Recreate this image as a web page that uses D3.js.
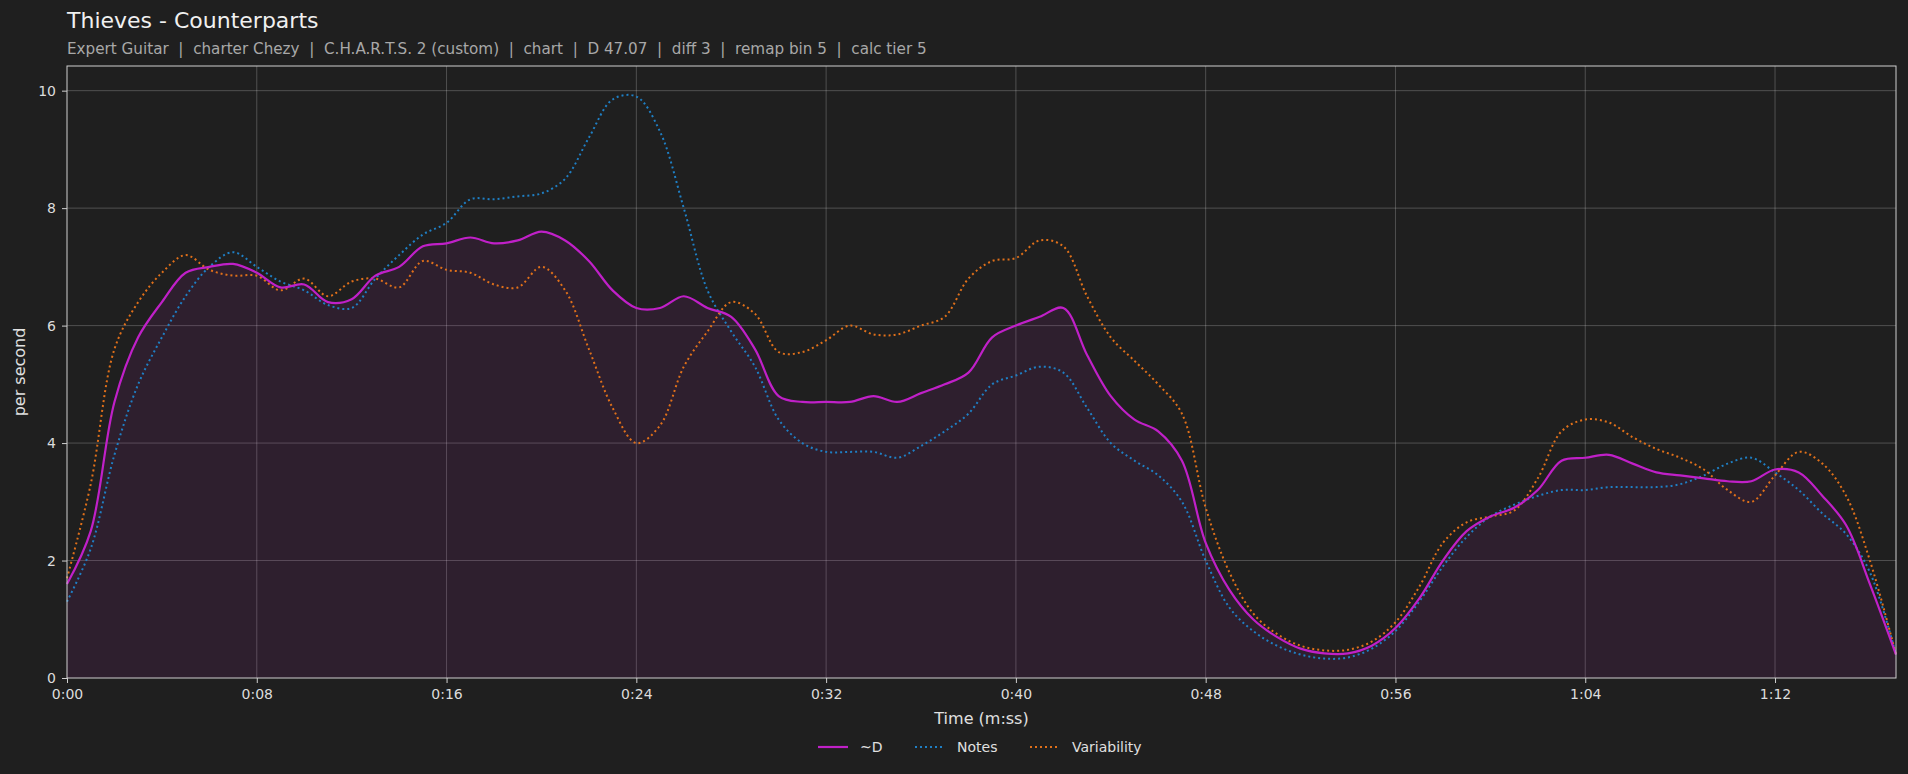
<!DOCTYPE html>
<html><head><meta charset="utf-8">
<script src="https://cdn.jsdelivr.net/npm/d3@7"></script>
<style>
body{margin:0;background:#1f1f1f;font-family:"DejaVu Sans",sans-serif;}
.axis text{fill:#dcdcdc;font-size:14px;font-family:"DejaVu Sans",sans-serif;}
.axis path,.axis line{stroke:#cfcfcf;}
.grid line{stroke:#ffffff;stroke-opacity:0.28;stroke-width:0.8;}
</style></head>
<body><svg id="chart"></svg>
<script>
const W = 1908, H = 774;
const margin = {top: 66, right: 12, bottom: 96, left: 67};
const innerW = W - margin.left - margin.right;
const innerH = H - margin.top - margin.bottom;

const TITLE = "Thieves - Counterparts";
const SUBTITLE = "Expert Guitar  |  charter Chezy  |  C.H.A.R.T.S. 2 (custom)  |  chart  |  D 47.07  |  diff 3  |  remap bin 5  |  calc tier 5";

const times = d3.range(0, 77).concat([77.1]);
const dValues = [1.6,2.5,4.7,5.8,6.4,6.9,7.0,7.05,6.9,6.65,6.7,6.4,6.45,6.85,7.0,7.35,7.4,7.5,7.4,7.45,7.6,7.45,7.1,6.6,6.3,6.3,6.5,6.3,6.15,5.6,4.8,4.7,4.7,4.7,4.8,4.7,4.85,5.0,5.2,5.8,6.0,6.15,6.3,5.5,4.8,4.4,4.2,3.7,2.3,1.5,1.0,0.7,0.5,0.42,0.42,0.55,0.85,1.35,2.0,2.5,2.75,2.9,3.2,3.7,3.75,3.8,3.65,3.5,3.45,3.4,3.35,3.35,3.55,3.5,3.1,2.6,1.6,0.4];
const notesValues = [1.3,2.2,3.8,5.0,5.8,6.5,7.0,7.25,7.0,6.75,6.6,6.35,6.3,6.8,7.2,7.55,7.75,8.15,8.15,8.2,8.25,8.5,9.2,9.85,9.9,9.3,8.0,6.6,5.9,5.3,4.4,4.0,3.85,3.85,3.85,3.75,3.95,4.2,4.5,5.0,5.15,5.3,5.2,4.6,4.0,3.7,3.45,3.0,2.0,1.2,0.8,0.55,0.4,0.33,0.35,0.5,0.8,1.3,1.9,2.4,2.75,2.95,3.1,3.2,3.2,3.25,3.25,3.25,3.3,3.45,3.65,3.75,3.5,3.2,2.8,2.45,1.8,0.4];
const varValues = [1.7,3.3,5.6,6.4,6.9,7.2,6.95,6.85,6.85,6.6,6.8,6.5,6.75,6.8,6.65,7.1,6.95,6.9,6.7,6.65,7.0,6.6,5.6,4.6,4.0,4.3,5.3,5.9,6.4,6.2,5.55,5.55,5.75,6.0,5.85,5.85,6.0,6.15,6.8,7.1,7.15,7.45,7.35,6.5,5.8,5.4,5.0,4.5,2.9,1.8,1.1,0.75,0.55,0.47,0.48,0.62,0.95,1.55,2.3,2.65,2.75,2.85,3.4,4.2,4.4,4.35,4.1,3.9,3.75,3.55,3.2,3.0,3.45,3.85,3.65,3.1,2.0,0.4];
const xTicks = [0,8,16,24,32,40,48,56,64,72];
const yTicks = [0,2,4,6,8,10];

const svg = d3.select("#chart").attr("width", W).attr("height", H);
const g = svg.append("g").attr("transform", `translate(${margin.left},${margin.top})`);

const x = d3.scaleLinear().domain([0, 77.1]).range([0, innerW]);
const y = d3.scaleLinear().domain([0, 10.42]).range([innerH, 0]);
const fmt = s => `${Math.floor(s / 60)}:${String(s % 60).padStart(2, "0")}`;

g.append("g").attr("class", "grid")
    .selectAll("line.v").data(xTicks.slice(1)).join("line")
    .attr("x1", d => x(d)).attr("x2", d => x(d)).attr("y1", 0).attr("y2", innerH);
g.append("g").attr("class", "grid")
    .selectAll("line.h").data(yTicks.slice(1)).join("line")
    .attr("x1", 0).attr("x2", innerW).attr("y1", d => y(d)).attr("y2", d => y(d));

const pts = arr => arr.map((v, i) => [times[i], v]);
const curve = d3.curveCatmullRom.alpha(0.5);

g.append("path").datum(pts(dValues))
    .attr("fill", "#b020b0").attr("fill-opacity", 0.11)
    .attr("d", d3.area().curve(curve).x(d => x(d[0])).y0(innerH).y1(d => y(d[1])));

const line = d3.line().curve(curve).x(d => x(d[0])).y(d => y(d[1]));
g.append("path").datum(pts(notesValues)).attr("fill", "none")
    .attr("stroke", "#1f7fc4").attr("stroke-width", 2).attr("stroke-dasharray", "2,3").attr("d", line);
g.append("path").datum(pts(varValues)).attr("fill", "none")
    .attr("stroke", "#e0701a").attr("stroke-width", 2).attr("stroke-dasharray", "2,3").attr("d", line);
g.append("path").datum(pts(dValues)).attr("fill", "none")
    .attr("stroke", "#c020c8").attr("stroke-width", 2.2).attr("d", line);

g.append("rect").attr("width", innerW).attr("height", innerH)
    .attr("fill", "none").attr("stroke", "#cfcfcf").attr("stroke-width", 1);

g.append("g").attr("class", "axis").attr("transform", `translate(0,${innerH})`)
    .call(d3.axisBottom(x).tickValues(xTicks).tickFormat(fmt).tickSize(5).tickPadding(6))
    .select(".domain").remove();
g.append("g").attr("class", "axis")
    .call(d3.axisLeft(y).tickValues(yTicks).tickSize(5).tickPadding(6))
    .select(".domain").remove();

svg.append("text").attr("x", 67).attr("y", 28).attr("fill", "#f0f0f0")
    .attr("font-size", 22).text(TITLE);
svg.append("text").attr("x", 67).attr("y", 54).attr("fill", "#a8a8a8")
    .attr("font-size", 15.2).attr("xml:space", "preserve").style("white-space", "pre").text(SUBTITLE);

svg.append("text").attr("x", margin.left + innerW / 2).attr("y", margin.top + innerH + 46)
    .attr("text-anchor", "middle").attr("fill", "#e0e0e0").attr("font-size", 16).text("Time (m:ss)");
svg.append("text").attr("transform", `translate(25,${margin.top + innerH / 2}) rotate(-90)`)
    .attr("text-anchor", "middle").attr("fill", "#e0e0e0").attr("font-size", 16).text("per second");

const legend = [
    {label: "~D", color: "#c020c8", dash: null, x: 818},
    {label: "Notes", color: "#1f7fc4", dash: "2,3", x: 915},
    {label: "Variability", color: "#e0701a", dash: "2,3", x: 1030}
];
const lg = svg.append("g").attr("transform", `translate(0,747)`);
legend.forEach(l => {
    lg.append("line").attr("x1", l.x).attr("x2", l.x + 30).attr("y1", 0).attr("y2", 0)
        .attr("stroke", l.color).attr("stroke-width", 2.2).attr("stroke-dasharray", l.dash);
    lg.append("text").attr("x", l.x + 42).attr("y", 5).attr("fill", "#e0e0e0")
        .attr("font-size", 14).text(l.label);
});
</script></body></html>
